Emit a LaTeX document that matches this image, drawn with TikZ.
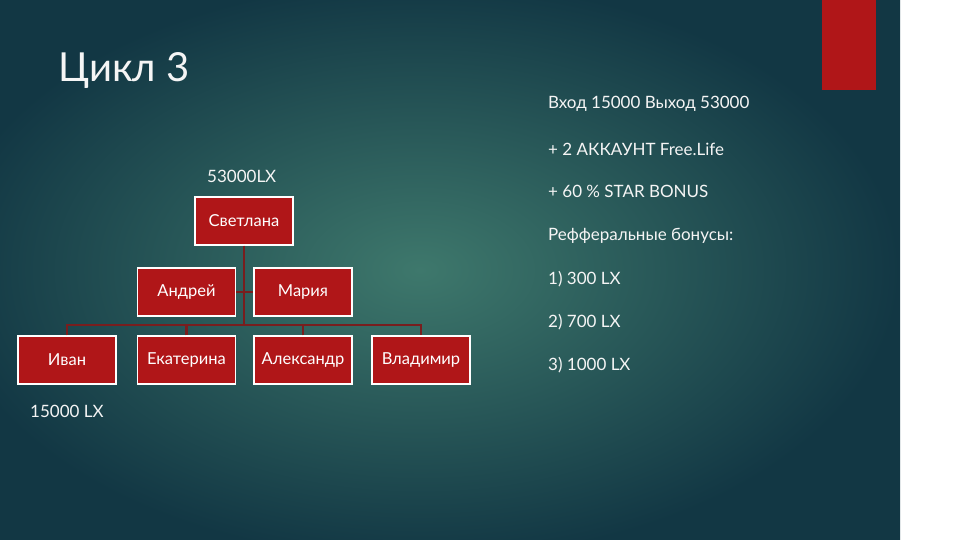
\documentclass[tikz,border=0pt]{standalone}
\usepackage{fontspec}
\setmainfont{Lato}
\begin{document}
\begin{tikzpicture}[x=1pt,y=-1pt,
  box/.style={draw=white,line width=1.2pt,fill=boxred,minimum width=98pt,minimum height=48pt,text=white,font=\fontsize{16.5}{16}\selectfont,inner sep=0pt},
  conn/.style={draw=linered,line width=2.2pt},
  txt/.style={text=white!92!gray,font=\fontsize{17}{17}\selectfont,anchor=west,inner sep=0pt}]
\definecolor{boxred}{RGB}{176,22,24}
\definecolor{linered}{RGB}{120,30,30}
\definecolor{bgdark}{RGB}{18,55,68}
\definecolor{bglight}{RGB}{62,120,108}
\path[use as bounding box] (0,0) rectangle (960,540);
\clip (0,0) rectangle (960,540);
\shade[inner color=bglight,outer color=bgdark] (-60,-20) rectangle (900,560);
\fill[boxred] (822,0) rectangle (876,90);
\node[text=white!92!gray,font=\fontsize{40}{40}\selectfont,anchor=base west,inner sep=0pt] (title) at (58,82) {Цикл 3};
\node[box] (s) at (244,221) {Светлана};
\node[box] (a) at (186.5,292) {Андрей};
\node[box] (m) at (303,292) {Мария};
\node[box] (i) at (67,360) {Иван};
\node[box] (e) at (186.5,360) {Екатерина};
\node[box] (al) at (303,360) {Александр};
\node[box] (v) at (421,360) {Владимир};
\coordinate (j) at (244,325);
\draw[conn] (s.south) -- (j);
\draw[conn] (a.east) -- (m.west);
\draw[conn] (i.north) |- (j) -| (v.north);
\draw[conn] (e.north) -- (e.north |- j);
\draw[conn] (al.north) -- (al.north |- j);
\node[txt] (l1) at (207,176) {53000LX};
\node[txt] (l2) at (30,411) {15000 LX};
\node[txt] (r1) at (548,104) {Вход 15000 Выход 53000};
\node[txt] (r2) at (548,149) {+ 2 АККАУНТ Free.Life};
\node[txt] (r3) at (548,191) {+ 60 \% STAR BONUS};
\node[txt] (r4) at (548,236) {Рефферальные бонусы:};
\node[txt] (r5) at (548,279) {1) 300 LX};
\node[txt] (r6) at (548,322) {2) 700 LX};
\node[txt] (r7) at (548,365) {3) 1000 LX};
\end{tikzpicture}
\end{document}
